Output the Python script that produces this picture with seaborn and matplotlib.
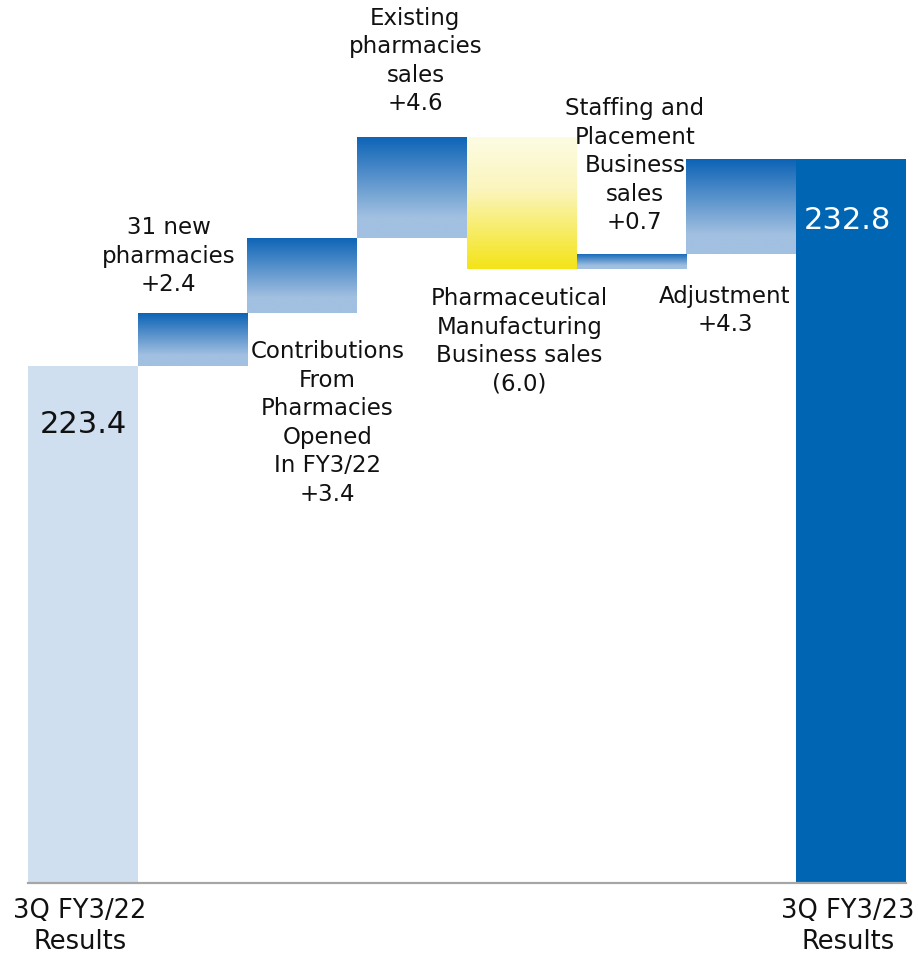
import numpy as np
import pandas as pd
import matplotlib
matplotlib.use("Agg")
import matplotlib.pyplot as plt
import seaborn as sns
from matplotlib.colors import LinearSegmentedColormap
from matplotlib.transforms import ScaledTranslation

# Waterfall of 3Q net sales (billion yen)
steps = ["start", "new", "contrib", "existing", "pharma", "staffing", "adjust", "end"]
values = [223.4, 2.4, 3.4, 4.6, -6.0, 0.7, 4.3, 232.8]
step_labels = [
    "",
    "31 new\npharmacies\n+2.4",
    "Contributions\nFrom\nPharmacies\nOpened\nIn FY3/22\n+3.4",
    "Existing\npharmacies\nsales\n+4.6",
    "Pharmaceutical\nManufacturing\nBusiness sales\n(6.0)",
    "Staffing and\nPlacement\nBusiness\nsales\n+0.7",
    "Adjustment\n+4.3",
    "",
]
tick_labels = ["3Q FY3/22\nResults", "", "", "", "", "", "", "3Q FY3/23\nResults"]
axis_floor = 200.0
axis_ceiling = 240.0

# Bottoms and heights of each floating bar
bottoms, heights = [], []
running = values[0]
for i, v in enumerate(values):
    if i == 0 or i == len(values) - 1:
        bottoms.append(axis_floor)
        heights.append(v - axis_floor)
    else:
        if v >= 0:
            bottoms.append(running)
        else:
            bottoms.append(running + v)
        heights.append(abs(v))
        running += v
df = pd.DataFrame({"step": steps, "height": heights, "bottom": bottoms, "value": values})

sns.set_theme(style="white")
plt.rcParams["font.family"] = ["DejaVu Sans"]

fig = plt.figure(figsize=(9.18, 9.56), dpi=100)
ax = fig.add_axes([28 / 918, 73 / 956, 878 / 918, 883 / 956])

sns.barplot(data=df, x="step", y="height", order=steps, bottom=df["bottom"].values,
            width=1.0, errorbar=None, color="#cfdff0", saturation=1, ax=ax)

blue_grad = LinearSegmentedColormap.from_list(
    "blue_grad", [(0, "#0c63b6"), (0.8, "#a2c0e1"), (1, "#a2c0e1")])
yellow_grad = LinearSegmentedColormap.from_list(
    "yellow_grad", [(0, "#fdfce4"), (0.4, "#fbf5bd"), (1, "#f4e417")])
ramp = np.linspace(0, 1, 256).reshape(-1, 1)

patches = ax.patches
for i, p in enumerate(patches):
    p.set_edgecolor("none")
    if i == 0:
        p.set_facecolor("#cfdff0")
    elif i == len(patches) - 1:
        p.set_facecolor("#0066b3")
    else:
        p.set_facecolor("none")
        x0, y0 = p.get_x(), p.get_y()
        w, h = p.get_width(), p.get_height()
        cmap = yellow_grad if values[i] < 0 else blue_grad
        im = ax.imshow(ramp, cmap=cmap, vmin=0, vmax=1, aspect="auto",
                       origin="upper", extent=[x0, x0 + w, y0, y0 + h],
                       interpolation="bilinear", zorder=1)
        im.set_clip_path(p)

ax.set_xlim(-0.5, 7.5)
ax.set_ylim(axis_floor, axis_ceiling)

# Step annotations (x center, top y)
label_pos = {1: (0.78, 230.2), 2: (2.23, 224.6), 3: (3.03, 239.7),
             4: (3.98, 227.0), 5: (5.03, 235.6), 6: (5.85, 227.1)}
for i, (x, y) in label_pos.items():
    ax.text(x, y, step_labels[i], ha="center", va="top", fontsize=16.5,
            linespacing=1.31, color="#111111", zorder=5)

ax.text(0, 220.75, f"{values[0]:.1f}", ha="center", va="center",
        fontsize=22, color="#111111", zorder=5)
ax.text(6.97, 230.0, f"{values[-1]:.1f}", ha="center", va="center",
        fontsize=22, color="white", zorder=5)

ax.set_xticks(range(len(steps)))
ax.set_xticklabels(tick_labels, fontsize=18.5, color="#111111", linespacing=1.25)
ax.tick_params(axis="x", length=0, pad=11)
shift = ScaledTranslation(-3 / 100, 0, fig.dpi_scale_trans)
for lab in ax.get_xticklabels():
    lab.set_transform(lab.get_transform() + shift)
ax.set_yticks([])
ax.set_xlabel("")
ax.set_ylabel("")
for s in ["top", "left", "right"]:
    ax.spines[s].set_visible(False)
ax.spines["bottom"].set_color("#a6a6a6")
ax.spines["bottom"].set_linewidth(1.6)
ax.spines["bottom"].set_zorder(6)
ax.set_facecolor("white")

fig.savefig("out.png", dpi=100, facecolor="white")
